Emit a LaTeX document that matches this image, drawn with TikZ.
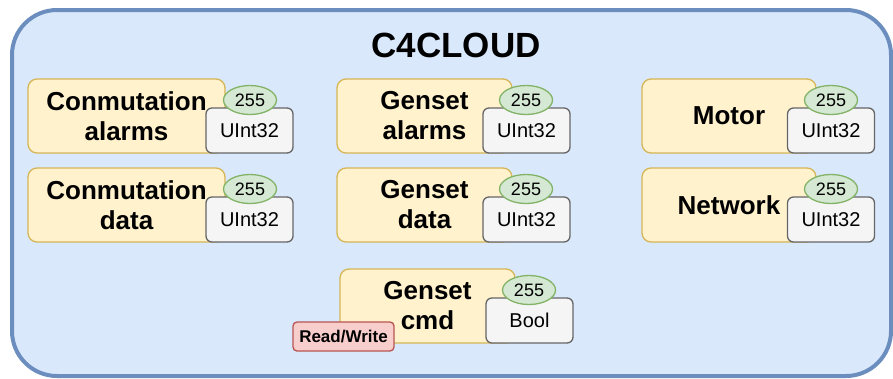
\documentclass[tikz,border=0pt]{standalone}
\usepackage{fontspec}
\setmainfont{Liberation Sans}
\usepackage{tikz}
\usetikzlibrary{shapes.geometric, positioning}
\definecolor{cloudfill}{HTML}{DAE8FC}
\definecolor{clouddraw}{HTML}{6C8EBF}
\definecolor{varfill}{HTML}{FFF2CC}
\definecolor{vardraw}{HTML}{D6B656}
\definecolor{typefill}{HTML}{F5F5F5}
\definecolor{typedraw}{HTML}{666666}
\definecolor{idfill}{HTML}{D5E8D4}
\definecolor{iddraw}{HTML}{82B366}
\definecolor{rwfill}{HTML}{F8CECC}
\definecolor{rwdraw}{HTML}{B85450}

\begin{document}
\begin{tikzpicture}[
  x=1pt, y=-1pt,
  cloud/.style={
    draw=clouddraw,
    fill=cloudfill,
    line width=4pt,
    rounded corners=45pt
  },
  var/.style={
    rectangle,
    rounded corners=9pt,
    draw=vardraw,
    fill=varfill,
    line width=1.3pt,
    minimum width=197pt,
    minimum height=74pt,
    align=center,
    font=\fontsize{26}{30}\selectfont\bfseries
  },
  vartype/.style={
    rectangle,
    rounded corners=6pt,
    draw=typedraw,
    fill=typefill,
    line width=1.3pt,
    minimum width=87pt,
    minimum height=45pt,
    inner sep=0pt,
    font=\fontsize{20}{24}\selectfont
  },
  varid/.style={
    ellipse,
    draw=iddraw,
    fill=idfill,
    line width=1.3pt,
    minimum width=53pt,
    minimum height=29pt,
    inner sep=0pt,
    font=\fontsize{18}{20}\selectfont
  },
  access/.style={
    rectangle,
    rounded corners=4pt,
    draw=rwdraw,
    fill=rwfill,
    line width=1.3pt,
    minimum width=101pt,
    minimum height=29pt,
    inner sep=0pt,
    font=\fontsize{17}{20}\selectfont\bfseries
  }
]
  \clip (0,0) rectangle (893,378);

  % Container
  \draw[cloud] (12,10) rectangle (891,376);
  \node[font=\fontsize{35}{40}\selectfont\bfseries] (title) at (456,45) {C4CLOUD};

  % Row 1
  \node[var] (comalarms) at (126.5,116) {Conmutation\\alarms};
  \node[vartype] (comalarmstype) at (249.5,130.5) {UInt32};
  \node[varid] (comalarmsid) at (250,100) {255};

  \node[var, minimum width=175pt] (genalarms) at (424.5,116) {Genset\\alarms};
  \node[vartype] (genalarmstype) at (526.5,130.5) {UInt32};
  \node[varid] (genalarmsid) at (526,100) {255};

  \node[var, minimum width=174pt] (motor) at (729,116) {Motor};
  \node[vartype] (motortype) at (831,130.5) {UInt32};
  \node[varid] (motorid) at (831,100) {255};

  % Row 2
  \node[var] (comdata) at (126.5,205) {Conmutation\\data};
  \node[vartype] (comdatatype) at (249.5,219.5) {UInt32};
  \node[varid] (comdataid) at (250,189) {255};

  \node[var, minimum width=175pt] (gendata) at (424.5,205) {Genset\\data};
  \node[vartype] (gendatatype) at (526.5,219.5) {UInt32};
  \node[varid] (gendataid) at (526,189) {255};

  \node[var, minimum width=174pt] (network) at (729,205) {Network};
  \node[vartype] (networktype) at (831,219.5) {UInt32};
  \node[varid] (networkid) at (831,189) {255};

  % Row 3
  \node[var, minimum width=175pt] (gencmd) at (427.5,306) {Genset\\cmd};
  \node[vartype] (gencmdtype) at (529.5,320.5) {Bool};
  \node[varid] (gencmdid) at (529,290) {255};
  \node[access] (gencmdrw) at (343.5,336.5) {Read/Write};
\end{tikzpicture}
\end{document}
